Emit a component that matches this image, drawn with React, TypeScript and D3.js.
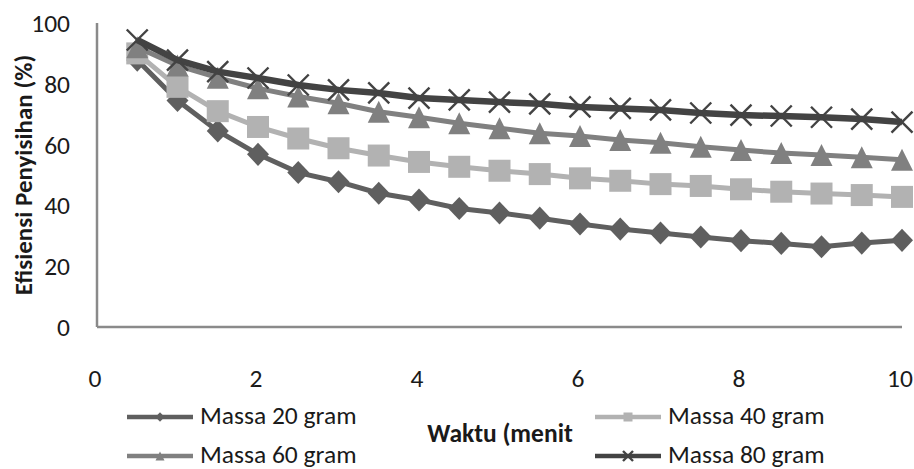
import React from "react";
import * as d3 from "d3";

const times = [0.5, 1, 1.5, 2, 2.5, 3, 3.5, 4, 4.5, 5, 5.5, 6, 6.5, 7, 7.5, 8, 8.5, 9, 9.5, 10];
const massa20 = [87.8, 74.5, 64.5, 56.8, 50.8, 47.8, 44, 41.8, 39, 37.5, 35.8, 33.9, 32.2, 30.9, 29.6, 28.4, 27.5, 26.4, 27.6, 28.5];
const massa40 = [90, 79, 71, 65.8, 62, 58.8, 56.4, 54.3, 52.7, 51.4, 50.3, 48.9, 48.1, 47, 46.4, 45.3, 44.5, 43.9, 43.4, 42.8];
const massa60 = [92, 86, 82, 78.5, 75.8, 73.6, 70.8, 69, 67, 65.4, 63.7, 62.8, 61.5, 60.6, 59.3, 58.2, 57.2, 56.6, 55.8, 55];
const massa80 = [94.4, 87.8, 84, 81.9, 79.6, 78, 77, 75.3, 74.7, 74, 73.4, 72.4, 71.9, 71.4, 70.4, 69.7, 69.4, 69, 68.4, 67.4];
const seriesNames = ["Massa 20 gram", "Massa 40 gram", "Massa 60 gram", "Massa 80 gram"];
const xTicks = [0, 2, 4, 6, 8, 10];
const yTicks = [0, 20, 40, 60, 80, 100];
const xTitle = "Waktu (menit";
const yTitle = "Efisiensi Penyisihan (%)";

const FONT = "Carlito, Lato, sans-serif";
const TEXT = "#1a1a1a";

type Marker = "diamond" | "square" | "triangle" | "x";

const series = [
  { name: seriesNames[0], values: massa20, color: "#5f5f5f", width: 5, marker: "diamond" as Marker },
  { name: seriesNames[1], values: massa40, color: "#b2b2b2", width: 5, marker: "square" as Marker },
  { name: seriesNames[2], values: massa60, color: "#808080", width: 5, marker: "triangle" as Marker },
  { name: seriesNames[3], values: massa80, color: "#434343", width: 6.5, marker: "x" as Marker },
];

function MarkerShape({ type, x, y, s, color }: { type: Marker; x: number; y: number; s: number; color: string }) {
  const h = s / 2;
  if (type === "diamond") {
    return <path d={`M${x},${y - h * 1.05}L${x + h},${y}L${x},${y + h * 1.05}L${x - h},${y}Z`} fill={color} />;
  }
  if (type === "square") {
    return <rect x={x - h} y={y - h} width={s} height={s} fill={color} />;
  }
  if (type === "triangle") {
    return <path d={`M${x},${y - h}L${x + h},${y + h}L${x - h},${y + h}Z`} fill={color} />;
  }
  return (
    <path
      d={`M${x - h},${y - h}L${x + h},${y + h}M${x - h},${y + h}L${x + h},${y - h}`}
      stroke={color}
      strokeWidth={2.4}
      fill="none"
    />
  );
}

export default function App() {
  const W = 914;
  const H = 469;
  const x = d3.scaleLinear().domain([0, 10]).range([97, 902]);
  const y = d3.scaleLinear().domain([0, 100]).range([327, 23]);
  const line = d3
    .line<number>()
    .x((_, i) => x(times[i]))
    .y((v) => y(v));

  const legend = [
    { s: series[0], lx: 127, tx: 200, base: 424 },
    { s: series[1], lx: 595, tx: 668, base: 424 },
    { s: series[2], lx: 127, tx: 200, base: 463 },
    { s: series[3], lx: 595, tx: 668, base: 463 },
  ];

  return (
    <svg
      width={W}
      height={H}
      viewBox={`0 0 ${W} ${H}`}
      style={{ position: "absolute", left: 0, top: 0, background: "#fff" }}
      fontFamily={FONT}
    >
      <rect x={0} y={0} width={W} height={H} fill="#fff" />
      {/* axes */}
      <line x1={x(0)} x2={x(0)} y1={y(100)} y2={y(0)} stroke="#8a8a8a" strokeWidth={2.5} />
      <line x1={x(0)} x2={x(10)} y1={y(0)} y2={y(0)} stroke="#8a8a8a" strokeWidth={2.5} />

      {yTicks.map((t) => (
        <text key={t} x={70} y={y(t) + 9} textAnchor="end" fontSize={25.5} fill={TEXT}>
          {t}
        </text>
      ))}
      {xTicks.map((t) => (
        <text key={t} x={x(t) - 2} y={387} textAnchor="middle" fontSize={25.5} fill={TEXT}>
          {t}
        </text>
      ))}

      <text
        transform={`translate(32,175) rotate(-90)`}
        textAnchor="middle"
        fontSize={25}
        fontWeight="bold"
        fill={TEXT}
      >
        {yTitle}
      </text>
      <text x={500} y={442} textAnchor="middle" fontSize={25.5} fontWeight="bold" fill={TEXT}>
        {xTitle}
      </text>

      {series.map((s) => (
        <g key={s.name}>
          <path d={line(s.values) || ""} fill="none" stroke={s.color} strokeWidth={s.width} strokeLinejoin="round" />
          {s.values.map((v, i) => (
            <MarkerShape key={i} type={s.marker} x={x(times[i])} y={y(v)} s={s.marker === "x" ? 21 : 22} color={s.color} />
          ))}
        </g>
      ))}

      {legend.map(({ s, lx, tx, base }) => (
        <g key={s.name}>
          <line x1={lx} x2={lx + 66} y1={base - 7} y2={base - 7} stroke={s.color} strokeWidth={4.5} />
          <MarkerShape type={s.marker} x={lx + 33} y={base - 7} s={s.marker === "x" ? 10 : 9} color={s.color} />
          <text x={tx} y={base} fontSize={25.5} fill={TEXT}>
            {s.name}
          </text>
        </g>
      ))}
    </svg>
  );
}
